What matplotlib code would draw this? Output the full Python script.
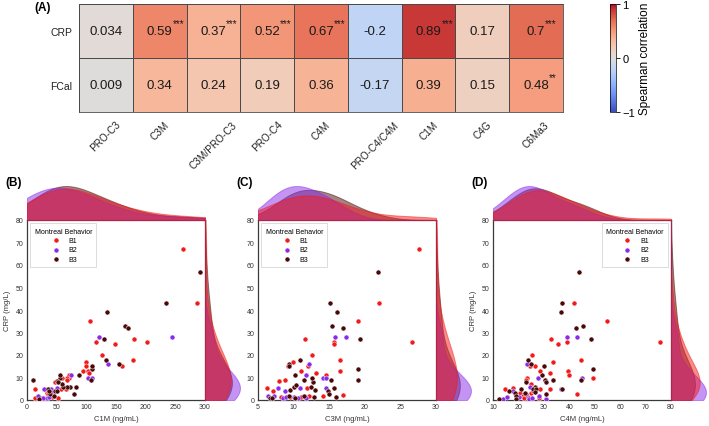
import numpy as np
import matplotlib
matplotlib.use('Agg')
import matplotlib.pyplot as plt

plt.rcParams['font.family'] = ['Liberation Sans', 'DejaVu Sans']

# ---------------- heatmap data ----------------
markers = ['PRO-C3', 'C3M', 'C3M/PRO-C3', 'PRO-C4', 'C4M', 'PRO-C4/C4M', 'C1M', 'C4G', 'C6Ma3']
rows = ['CRP', 'FCal']
crp_rho = [0.034, 0.59, 0.37, 0.52, 0.67, -0.2, 0.89, 0.17, 0.7]
fcal_rho = [0.009, 0.34, 0.24, 0.19, 0.36, -0.17, 0.39, 0.15, 0.48]
crp_sig = ['', '***', '***', '***', '***', '', '***', '', '***']
fcal_sig = ['', '', '', '', '', '', '', '', '**']

# ---------------- scatter data ----------------
groups = ['B1', 'B2', 'B3']
group_colors = ['#F21A1A', '#8A2BE8', '#4A0808']

# Panel B: C1M vs CRP
b_c1m = [263, 291, 234, 286, 135, 106, 165, 171, 121, 129, 117, 149, 180, 203, 244, 127, 133, 137, 155, 160,
         178, 100, 100, 94, 103, 105, 110, 110, 103, 110, 108, 87, 82, 80, 74, 70, 70, 67, 68, 73,
         67, 66, 61, 59, 56, 55, 59, 47, 51, 53, 58, 47, 51, 50, 52, 10, 13, 14, 19, 21,
         29, 33, 36, 38, 33, 27, 30, 24, 41, 41, 44, 36, 37, 42, 46, 32, 37]
b_crp = [67, 57, 43, 43, 39, 35, 33, 32, 28, 27, 26, 25, 27, 26, 28, 20, 18, 16, 16, 15,
         18, 17, 15, 13, 13, 12, 14, 15, 10, 10, 9, 11, 6, 2.5, 11, 10, 11, 10, 9, 6,
         6, 5, 6, 7, 10, 11, 10, 8, 8.5, 8, 5, 4, 4, 5.5, 1, 9, 5, 1, 2, 0.5,
         5, 3, 5, 2.5, 1, 0.7, 0.5, 1, 5, 3.5, 3.5, 2.5, 1.2, 1.2, 2, 4.3, 4]
b_grp = ['B1', 'B3', 'B3', 'B1', 'B3', 'B1', 'B3', 'B3', 'B2', 'B3', 'B1', 'B1', 'B1', 'B1', 'B2', 'B1', 'B3', 'B2', 'B3', 'B1',
         'B1', 'B1', 'B1', 'B1', 'B1', 'B1', 'B3', 'B3', 'B2', 'B2', 'B3', 'B3', 'B3', 'B3', 'B2', 'B1', 'B1', 'B1', 'B1', 'B3',
         'B3', 'B1', 'B3', 'B3', 'B3', 'B3', 'B1', 'B1', 'B3', 'B3', 'B1', 'B3', 'B3', 'B2', 'B1', 'B3', 'B1', 'B1', 'B2', 'B3',
         'B2', 'B1', 'B3', 'B3', 'B2', 'B2', 'B1', 'B1', 'B2', 'B2', 'B1', 'B1', 'B2', 'B1', 'B3', 'B1', 'B3']

# Panel C: C3M vs CRP
c_c3m = [27.6, 21.9, 22.0, 15.1, 16.1, 19.1, 15.4, 16.9, 15.8, 17.4, 11.6, 19.3, 15.7, 15.7, 26.6, 12.6, 10.9, 16.5, 12.2, 9.3,
         9.4, 9.2, 12.0, 9.9, 13.2, 11.1, 16.5, 19.1, 14.1, 14.5, 14.6, 10.2, 11.8, 8.0, 8.8, 11.4, 15.3, 19.0, 12.7, 12.6,
         6.2, 7.1, 7.8, 8.8, 9.5, 10.1, 10.3, 10.9, 11.9, 12.5, 13.0, 14.5, 14.8, 15.7, 15.0, 17.0, 14.1, 15.9,
         6.45, 6.7, 6.9, 7.3, 8.2, 8.5, 8.9, 9.3, 9.5, 10.0, 10.2, 10.6, 11.1, 11.4, 11.6, 11.8, 12.2, 12.8]
c_crp = [67, 57, 43, 43, 39, 35, 33, 32, 28, 28, 27, 27, 26, 25, 26, 20, 18, 18, 16, 16,
         15, 15, 15, 17, 12, 13, 13, 14, 10, 10, 11, 11, 11, 8.5, 9, 9, 9, 8.7, 8, 10,
         5.2, 4.1, 5.2, 4, 4.4, 5.6, 6.6, 5.2, 5.2, 6, 4.5, 5.2, 4.1, 5.2, 2.6, 2.2, 1.6, 1.2,
         1.6, 0.7, 0.7, 1.6, 1.2, 0.7, 1.2, 1.6, 1.2, 1.2, 0.7, 0.7, 1.2, 1.6, 1.2, 0.7, 1.6, 1.2]
c_grp = ['B1', 'B3', 'B1', 'B3', 'B3', 'B1', 'B3', 'B3', 'B2', 'B2', 'B1', 'B3', 'B1', 'B1', 'B1', 'B1', 'B3', 'B1', 'B2', 'B3',
         'B3', 'B1', 'B1', 'B1', 'B1', 'B1', 'B1', 'B3', 'B2', 'B2', 'B1', 'B3', 'B2', 'B1', 'B1', 'B3', 'B3', 'B3', 'B3', 'B3',
         'B1', 'B1', 'B2', 'B2', 'B3', 'B3', 'B3', 'B2', 'B1', 'B3', 'B3', 'B2', 'B3', 'B3', 'B3', 'B1', 'B1', 'B3',
         'B2', 'B3', 'B3', 'B2', 'B1', 'B2', 'B2', 'B3', 'B1', 'B2', 'B3', 'B2', 'B1', 'B3', 'B1', 'B2', 'B1', 'B3']

# Panel D: C4M vs CRP
d_c4m = [43.8, 41.9, 37.3, 36.7, 54.7, 42.8, 45.5, 39.2, 43.0, 32.8, 48.6, 35.4, 39.2, 75.7, 25.3, 23.7, 44.7, 23.3, 24.8, 24.4,
         26.5, 33.4, 30.0, 28.4, 39.3, 32.6, 49.4, 39.7, 29.4, 27.8, 44.9, 49.4, 23.5, 30.4, 33.5, 44.5, 23.1, 22.8, 30.7,
         28.6, 32.4, 36.7, 37.2, 24.5, 26.4, 25.7, 27.1, 24.8, 43.2, 30.8, 14.8, 16.3, 17.9, 17.9, 18.5, 19.2, 20.1, 20.5,
         21.1, 21.8, 22.6, 22.0, 23.1, 23.9, 24.1, 25.0, 25.3, 25.6, 26.4, 28.1, 28.2, 30.8, 12.4, 14.1, 15.6, 19.2]
d_crp = [57, 43, 43, 39, 35, 32, 33, 28, 28, 27, 27, 25, 26, 26, 20, 18, 18, 16, 16, 15,
         15, 17, 15, 13, 13, 12, 14, 11, 11, 10, 10, 10, 10, 9, 9, 8.7, 8.7, 8, 8,
         5, 5, 5, 5, 6, 6, 5, 5, 7, 2.5, 2.5, 5, 4, 5.5, 4, 3, 2, 1.5, 3,
         5, 2, 3, 0.8, 2.5, 1.5, 0.5, 3, 1, 4, 3.7, 2, 1, 0.5, 0.5, 0.5, 1.4, 0.5]
d_grp = ['B3', 'B1', 'B3', 'B3', 'B1', 'B3', 'B3', 'B2', 'B2', 'B1', 'B3', 'B1', 'B1', 'B1', 'B1', 'B3', 'B1', 'B2', 'B3', 'B1',
         'B1', 'B1', 'B3', 'B1', 'B1', 'B1', 'B3', 'B1', 'B3', 'B2', 'B2', 'B1', 'B1', 'B3', 'B3', 'B3', 'B1', 'B3', 'B3',
         'B1', 'B1', 'B2', 'B3', 'B2', 'B3', 'B3', 'B3', 'B1', 'B1', 'B3', 'B1', 'B3', 'B1', 'B2', 'B3', 'B3', 'B2', 'B1',
         'B3', 'B1', 'B3', 'B1', 'B2', 'B1', 'B2', 'B1', 'B2', 'B1', 'B3', 'B2', 'B1', 'B2', 'B3', 'B2', 'B2', 'B3']

W, H = 709, 427
fig = plt.figure(figsize=(W / 100, H / 100), dpi=100)


def frac(x0, y0, x1, y1):
    return [x0 / W, 1 - y1 / H, (x1 - x0) / W, (y1 - y0) / H]


# ---------------- heatmap ----------------
ax = fig.add_axes(frac(79, 5, 563, 113))
vals = np.array([crp_rho, fcal_rho])
sigs = [crp_sig, fcal_sig]
mesh = ax.pcolormesh(np.arange(len(markers) + 1), np.arange(len(rows) + 1), vals,
                     cmap='coolwarm', vmin=-1, vmax=1, edgecolors='#4a4a4a', linewidth=0.6)
ax.set_xlim(0, len(markers))
ax.set_ylim(len(rows), 0)
for i in range(len(rows)):
    for j in range(len(markers)):
        t = ax.text(j + 0.5, i + 0.5, f'{vals[i, j]:g}', ha='center', va='center', fontsize=9.5, color='#1a1a1a')
        if sigs[i][j]:
            ax.annotate(sigs[i][j], xy=(1.0, 0.75), xycoords=t, ha='left', va='bottom', fontsize=7, color='#1a1a1a')
ax.set_xticks(np.arange(len(markers)) + 0.5)
ax.set_xticklabels(markers, rotation=45, ha='center', fontsize=7.2, color='#222222')
ax.set_yticks(np.arange(len(rows)) + 0.5)
ax.set_yticklabels(rows, fontsize=7.5, color='#222222')
ax.tick_params(length=0, pad=5)
for s in ax.spines.values():
    s.set_color('#4a4a4a')
    s.set_linewidth(0.6)

cax = fig.add_axes(frac(610, 5, 616, 113))
cb = fig.colorbar(mesh, cax=cax, ticks=[-1, 0, 1])
cb.outline.set_linewidth(0.5)
cax.tick_params(labelsize=8, length=3, width=0.6, pad=1.5)
cb.set_label('Spearman correlation', fontsize=8.5, labelpad=3)

fig.text(34 / W, 1 - 8 / H, '(A)', fontsize=8.5, fontweight='bold', va='center', ha='left')


# ---------------- scatter panels ----------------
BW_ADJUST = 1.4


def kde(values, grid):
    v = np.asarray(values, float)
    n = len(v)
    bw = BW_ADJUST * v.std(ddof=1) * n ** (-0.2)
    z = (grid[:, None] - v[None, :]) / bw
    return np.exp(-0.5 * z ** 2).sum(1) / (n * bw * np.sqrt(2 * np.pi))


def panel(x, y, g, xlim, xticks, xlabel, px0, letter, ylabel, legend_loc):
    x = np.asarray(x, float)
    y = np.asarray(y, float)
    g = np.asarray(g)
    px1 = px0 + 178
    py0, py1 = 221, 401
    main = fig.add_axes(frac(px0, py0, px1, py1))
    top = fig.add_axes(frac(px0, py0 - 35, px1, py0))
    right = fig.add_axes(frac(px1, py0, px1 + 36, py1))
    for grp, col in zip(groups, group_colors):
        m = g == grp
        main.scatter(x[m], y[m], s=13, color=col, edgecolors='white', linewidths=0.35, label=grp, zorder=3)
    main.set_xlim(*xlim)
    main.set_ylim(0, 80)
    main.set_xticks(xticks)
    main.set_yticks(np.arange(0, 81, 10))
    main.tick_params(length=0, labelsize=5, pad=2.5, colors='#333333')
    for s in main.spines.values():
        s.set_color('#3a3a3a')
        s.set_linewidth(0.9)
    main.set_xlabel(xlabel, fontsize=5.5, color='#333333', labelpad=3)
    if ylabel:
        main.set_ylabel('CRP (mg/L)', fontsize=5.5, color='#333333', labelpad=3)
    leg = main.legend(title='Montreal Behavior', loc=legend_loc, fontsize=5, title_fontsize=5,
                      frameon=True, fancybox=False, borderpad=0.6, labelspacing=0.35,
                      handletextpad=0.8, markerscale=1.0)
    leg.get_frame().set_edgecolor('#cccccc')
    leg.get_frame().set_linewidth(0.6)

    gx = np.linspace(xlim[0], xlim[1], 300)
    gy = np.linspace(0, 80, 300)
    tops, rights = [], []
    for grp, col in list(zip(groups, group_colors))[::-1]:
        m = g == grp
        dx = kde(x[m], gx)
        dy = kde(y[m], gy)
        tops.append(dx.max())
        rights.append(dy.max())
        top.fill_between(gx, 0, dx, facecolor=col, alpha=0.5, edgecolor=col, linewidth=0.7)
        right.fill_betweenx(gy, 0, dy, facecolor=col, alpha=0.5, edgecolor=col, linewidth=0.7)
    top.set_xlim(*xlim)
    top.set_ylim(0, max(tops) * 1.03)
    right.set_ylim(0, 80)
    right.set_xlim(0, max(rights) * 1.03)
    top.axis('off')
    right.axis('off')
    fig.text((px0 - 22) / W, 1 - 183 / H, letter, fontsize=8.5, fontweight='bold', va='center', ha='left')


panel(b_c1m, b_crp, b_grp, (0, 300), np.arange(0, 301, 50), 'C1M (ng/mL)', 27, '(B)', True, 'upper left')
panel(c_c3m, c_crp, c_grp, (5, 30), np.arange(5, 31, 5), 'C3M (ng/mL)', 258, '(C)', False, 'upper left')
panel(d_c4m, d_crp, d_grp, (10, 80), np.arange(10, 81, 10), 'C4M (ng/mL)', 493, '(D)', True, 'upper right')

fig.savefig('out.png', dpi=100)
